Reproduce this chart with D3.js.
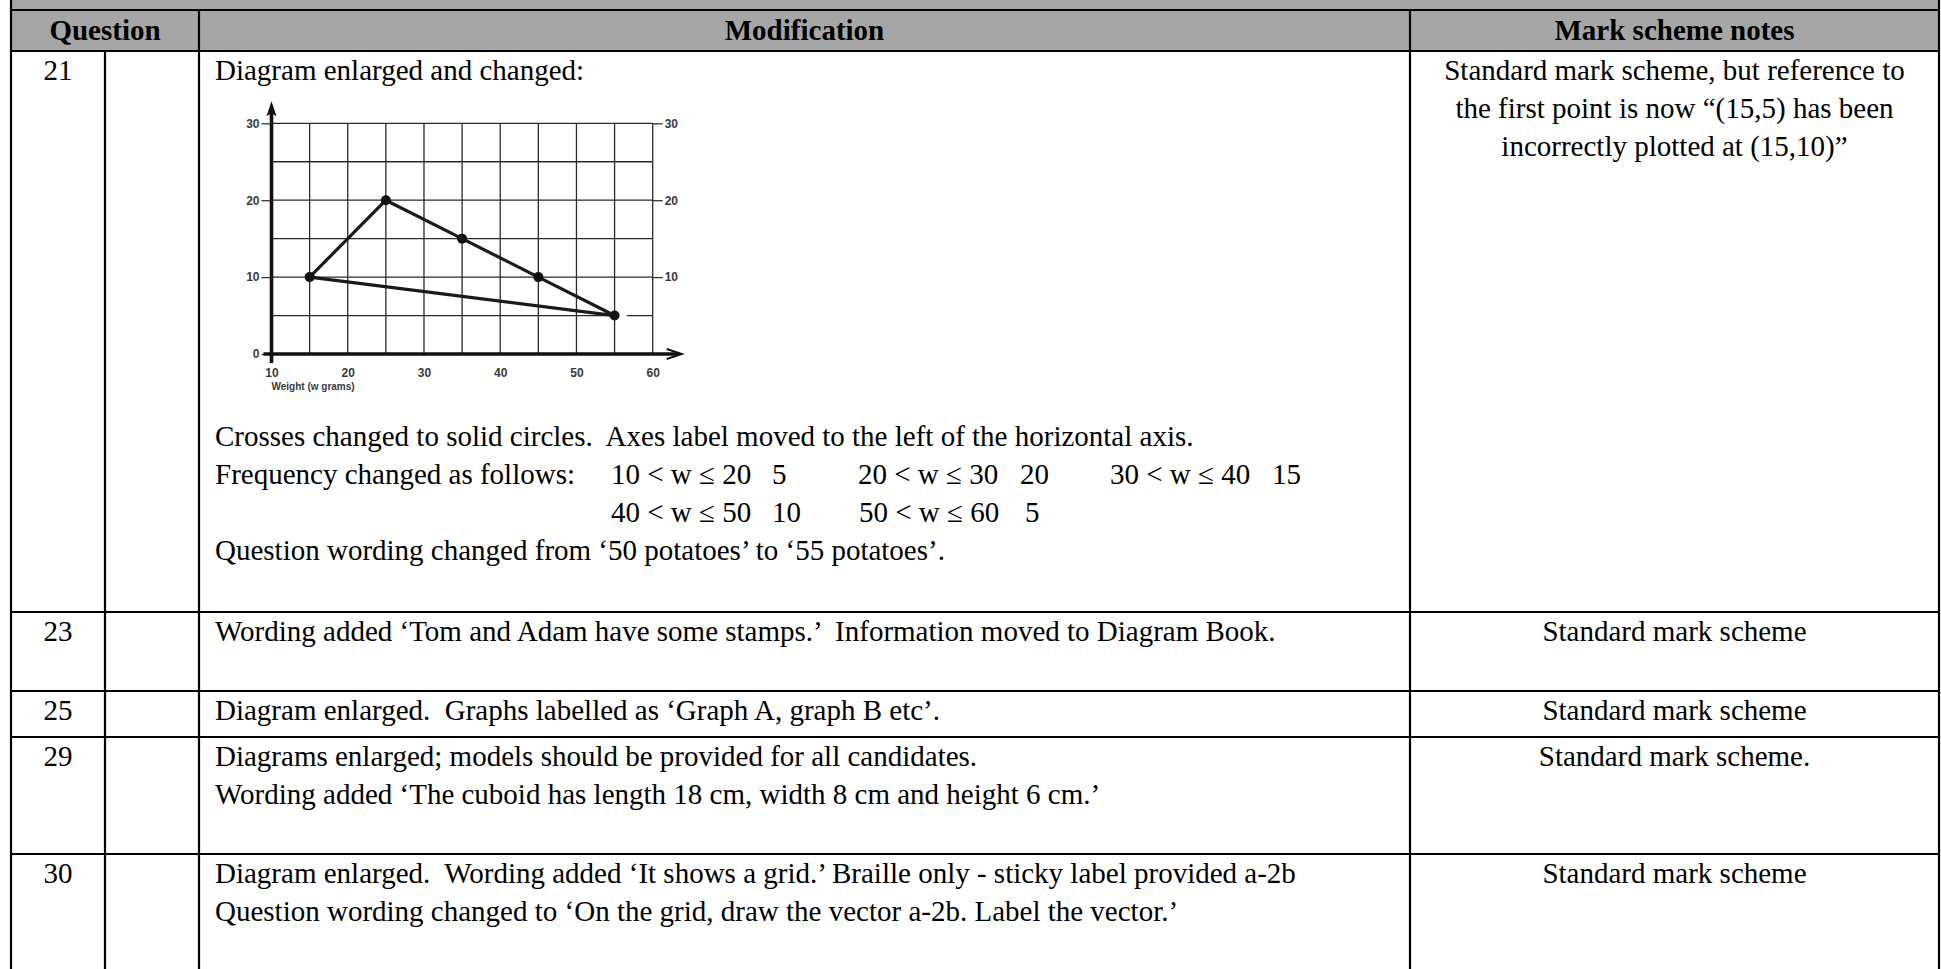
<!DOCTYPE html>
<html><head><meta charset="utf-8">
<script src="https://cdn.jsdelivr.net/npm/d3@7"></script>
<style>
body{margin:0;background:#fff}
svg{display:block}
.t{font-family:"Liberation Serif","Times New Roman",serif;font-size:29px;fill:#000;white-space:pre}
.h{font-weight:bold}
.ax text{font-family:"Liberation Sans",Arial,sans-serif;font-weight:bold;font-size:12px;fill:#3a3a3a}
.ax line{stroke:#333;stroke-width:1.3}
</style>
</head><body>
<svg id="c" width="1941" height="969"></svg>
<script>
// ---- data ----
const headers = ["Question", "Modification", "Mark scheme notes"];
const questions = ["21", "23", "25", "29", "30"];
const modIntro = ["Diagram enlarged and changed:"];
const mod21 = [
  "Crosses changed to solid circles.  Axes label moved to the left of the horizontal axis.",
  "Frequency changed as follows:",
  "",
  "Question wording changed from \u201850 potatoes\u2019 to \u201855 potatoes\u2019."
];
const freqIntervals = ["10 < w \u2264 20", "20 < w \u2264 30", "30 < w \u2264 40", "40 < w \u2264 50", "50 < w \u2264 60"];
const freqValues = ["5", "20", "15", "10", "5"];
const mod23 = ["Wording added \u2018Tom and Adam have some stamps.\u2019  Information moved to Diagram Book."];
const mod25 = ["Diagram enlarged.  Graphs labelled as \u2018Graph A, graph B etc\u2019."];
const mod29 = ["Diagrams enlarged; models should be provided for all candidates.",
  "Wording added \u2018The cuboid has length 18 cm, width 8 cm and height 6 cm.\u2019"];
const mod30 = ["Diagram enlarged.  Wording added \u2018It shows a grid.\u2019 Braille only - sticky label provided a-2b",
  "Question wording changed to \u2018On the grid, draw the vector a-2b. Label the vector.\u2019"];
const mark21 = ["Standard mark scheme, but reference to", "the first point is now \u201c(15,5) has been", "incorrectly plotted at (15,10)\u201d"];
const markOthers = ["Standard mark scheme", "Standard mark scheme", "Standard mark scheme.", "Standard mark scheme"];

// chart data
const weights = [15, 25, 35, 45, 55];
const frequencies = [10, 20, 15, 10, 5];
const xTicks = [10, 20, 30, 40, 50, 60];
const yTicksLeft = [0, 10, 20, 30];
const yTicksRight = [10, 20, 30];
const xLabel = "Weight (w grams)";

// ---- layout ----
const svg = d3.select("#c");
const L = 11, R = 1939, C1 = 105, C2 = 199, C3 = 1410;
const rowLines = [10, 51, 612, 691, 737, 854];
const lh = 38;

svg.append("rect").attr("x", L).attr("y", 0).attr("width", R - L).attr("height", 51).attr("fill", "#a6a6a6");

const g = svg.append("g");
rowLines.forEach(y => g.append("line").attr("x1", L - 1).attr("x2", R + 1).attr("y1", y).attr("y2", y));
[[L, 0, 969], [R, 0, 969], [C2, 10, 969], [C3, 10, 969], [C1, 51, 969]].forEach(([x, y1, y2]) =>
  g.append("line").attr("x1", x).attr("x2", x).attr("y1", y1).attr("y2", y2));
g.selectAll("line").attr("stroke", "#000").attr("stroke-width", 2.2);

function txt(s, x, y, anchor, cls) {
  svg.append("text").attr("class", "t " + (cls || "")).attr("x", x).attr("y", y)
    .attr("xml:space", "preserve")
    .attr("text-anchor", anchor || "start").text(s);
}
// headers
const hx = [(L + C2) / 2, (C2 + C3) / 2, (C3 + R) / 2];
headers.forEach((h, i) => txt(h, hx[i], 40, "middle", "h"));

// question numbers
const rowTops = [51, 612, 691, 737, 854];
questions.forEach((q, i) => txt(q, (L + C1) / 2, rowTops[i] + 29, "middle"));

const MX = 215, MC = (C3 + R) / 2;
// row 21
txt(modIntro[0], MX, 80);
mark21.forEach((s, i) => txt(s, MC, 80 + i * lh, "middle"));
mod21.forEach((s, i) => { if (s) txt(s, MX, 446 + i * lh); });
const fx = [611, 858, 1110, 611, 859];
const vx = [772, 1020, 1272, 772, 1025];
freqIntervals.forEach((s, i) => {
  const y = 446 + (i < 3 ? 1 : 2) * lh;
  txt(s, fx[i], y);
  txt(freqValues[i], vx[i], y);
});
// other rows
[mod23, mod25, mod29, mod30].forEach((lines, r) => {
  lines.forEach((s, i) => txt(s, MX, rowTops[r + 1] + 29 + i * lh));
  txt(markOthers[r], MC, rowTops[r + 1] + 29, "middle");
});

// ---- chart ----
const x = d3.scaleLinear().domain([10, 60]).range([271.5, 652.7]);
const y = d3.scaleLinear().domain([0, 30]).range([354, 123.3]);
const ch = svg.append("g");

// grid
const grid = ch.append("g").attr("stroke", "#2a2a2a").attr("stroke-width", 1.3);
d3.range(15, 61, 5).forEach(v => grid.append("line").attr("x1", x(v)).attr("x2", x(v)).attr("y1", y(0)).attr("y2", y(30)));
d3.range(5, 31, 5).forEach(v => grid.append("line").attr("x1", x(10)).attr("x2", x(60)).attr("y1", y(v)).attr("y2", y(v)));
// small gap right of last point on its gridline
ch.append("line").attr("x1", x(55)).attr("x2", x(56.6)).attr("y1", y(5)).attr("y2", y(5)).attr("stroke", "#fff").attr("stroke-width", 3);

// axes with ticks
const axL = ch.append("g").attr("class", "ax").attr("transform", `translate(${x(10)},0)`)
  .call(d3.axisLeft(y).tickValues(yTicksLeft).tickSize(10).tickPadding(2));
const axR = ch.append("g").attr("class", "ax").attr("transform", `translate(${x(60)},0)`)
  .call(d3.axisRight(y).tickValues(yTicksRight).tickSize(10).tickPadding(2));
const axB = ch.append("g").attr("class", "ax").attr("transform", `translate(0,${y(0)})`)
  .call(d3.axisBottom(x).tickValues(xTicks).tickSize(0).tickPadding(14));
[axL, axR, axB].forEach(a => a.select(".domain").remove());

ch.append("text").attr("x", x(10)).attr("y", y(0) + 36)
  .style("font-family", "Liberation Sans, Arial, sans-serif").style("font-weight", "bold")
  .style("font-size", "10px").attr("fill", "#3a3a3a").text(xLabel);

// main axis lines + arrows
const x0 = x(10), yb = y(0);
ch.append("line").attr("x1", x0).attr("x2", x0).attr("y1", yb + 9).attr("y2", y(30) - 12)
  .attr("stroke", "#111").attr("stroke-width", 3.6);
ch.append("path").attr("d", `M${x0},${y(30) - 22} L${x0 - 5},${y(30) - 7} L${x0},${y(30) - 10} L${x0 + 5},${y(30) - 7} Z`).attr("fill", "#111");
ch.append("line").attr("x1", x0 - 8).attr("x2", x(60) + 26).attr("y1", yb).attr("y2", yb)
  .attr("stroke", "#111").attr("stroke-width", 3.6);
ch.append("path").attr("d", `M${x(60) + 14},${yb - 5} L${x(60) + 29},${yb} L${x(60) + 14},${yb + 5}`)
  .attr("fill", "none").attr("stroke", "#111").attr("stroke-width", 2);

// polygon line and dots
const pts = weights.map((w, i) => [w, frequencies[i]]);
ch.append("path").datum(pts)
  .attr("d", d3.line().x(d => x(d[0])).y(d => y(d[1])).curve(d3.curveLinearClosed))
  .attr("fill", "none").attr("stroke", "#1a1a1a").attr("stroke-width", 3.2).attr("stroke-linejoin", "round");
ch.selectAll("circle.p").data(pts).join("circle").attr("class", "p")
  .attr("cx", d => x(d[0])).attr("cy", d => y(d[1])).attr("r", 5).attr("fill", "#111");
</script>
</body></html>
